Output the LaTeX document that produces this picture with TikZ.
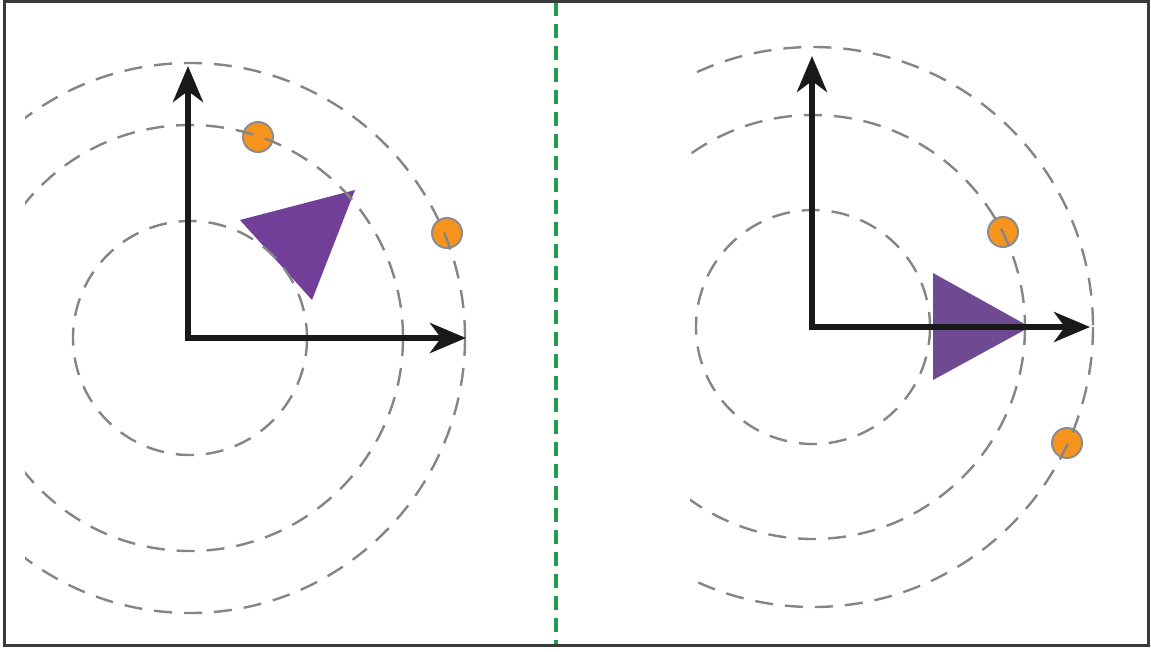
\documentclass[tikz,border=0pt]{standalone}
\usetikzlibrary{arrows.meta}
\definecolor{orng}{HTML}{F7941D}
\definecolor{purpA}{HTML}{713F98}
\definecolor{purpB}{HTML}{6E4A92}
\definecolor{grn}{HTML}{1E9E4E}
\definecolor{framec}{HTML}{3A3A3A}
\definecolor{ringc}{HTML}{858585}
\tikzset{
  ring/.style={draw=ringc, line width=2.4pt, dash pattern=on 18pt off 12pt},
  axis/.style={draw=black!90, line width=6pt, -{Stealth[length=36pt,width=30pt,inset=11pt]}},
  ball/.style={circle, fill=orng, draw=gray!90, line width=2pt, minimum size=30pt, inner sep=0pt},
}
\begin{document}
\begin{tikzpicture}[x=1pt,y=-1pt]
\useasboundingbox (0,0) rectangle (1151,651);
\coordinate (OL) at (190,338);
\coordinate (OR) at (813,327);
\fill[purpA] (240,220) -- (355,190) -- (312,300) -- cycle;
\fill[purpB] (933,273) -- (933,380) -- (1030,327) -- cycle;
\node[ball] (b1) at (258,137) {};
\node[ball] (b2) at (447,233) {};
\node[ball] (b3) at (1003,232) {};
\node[ball] (b4) at (1067,443) {};
\begin{scope}
  \clip (25,5) rectangle (550,640);
  \draw[ring] (OL) circle[radius=117];
  \draw[ring] (OL) circle[radius=213];
  \draw[ring] (OL) circle[radius=275];
\end{scope}
\begin{scope}
  \clip (690,5) rectangle (1140,640);
  \draw[ring] (OR) circle[radius=117];
  \draw[ring] (OR) circle[radius=212];
  \draw[ring] (OR) circle[radius=280];
\end{scope}
% axes
\coordinate (L0) at (188,338);
\coordinate (LU) at (188,66);
\coordinate (LR) at (466,338);
\coordinate (R0) at (812,327);
\coordinate (RU) at (812,56);
\coordinate (RR) at (1090,327);
\draw[axis] ([yshift=3pt]L0) -- (LU);
\draw[axis] ([xshift=-3pt]L0) -- (LR);
\draw[axis] ([yshift=3pt]R0) -- (RU);
\draw[axis] ([xshift=-3pt]R0) -- (RR);
% divider
\coordinate (dT) at (556,2);
\coordinate (dB) at (556,644);
\draw[grn, line width=3.5pt, dash pattern=on 14pt off 8pt] (dT) -- (dB);
% frame
\draw[framec, line width=3pt] (4.5,1.5) rectangle (1148.5,645.5);
\end{tikzpicture}
\end{document}
